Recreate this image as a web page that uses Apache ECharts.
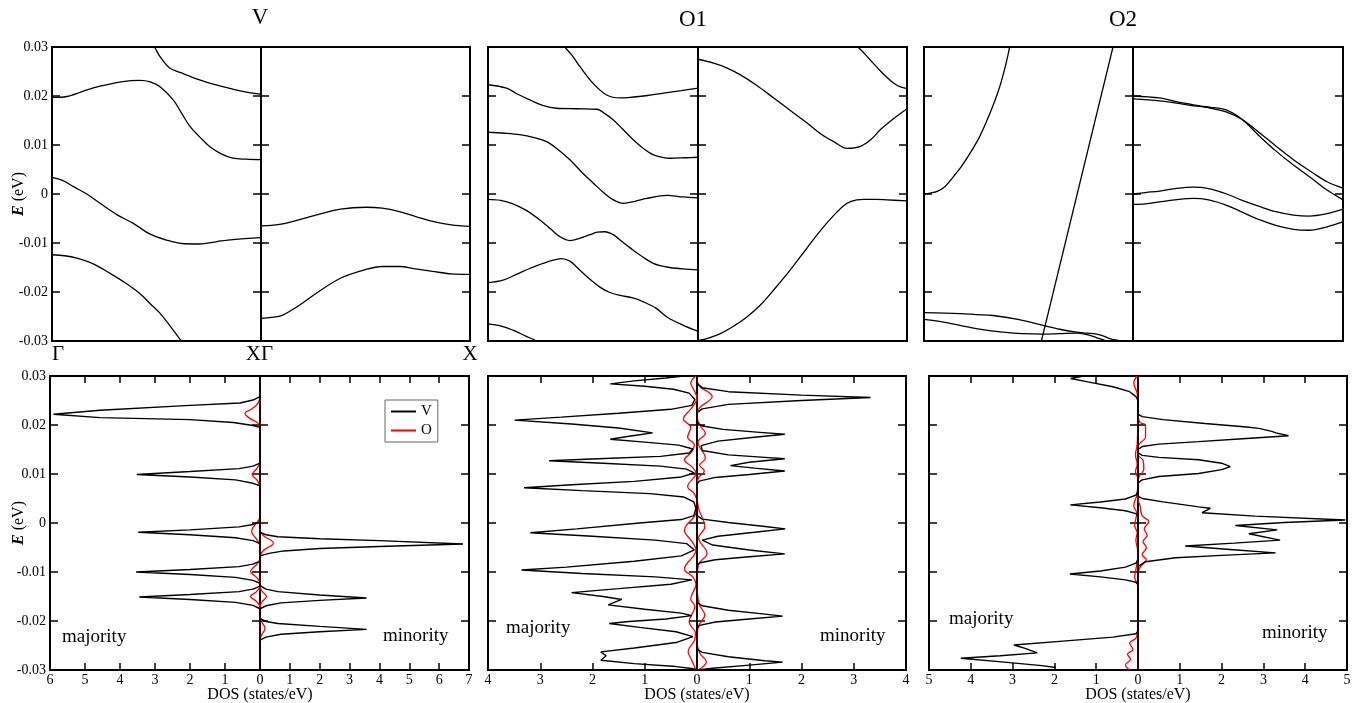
<!DOCTYPE html>
<html><head><meta charset="utf-8">
<script src="https://cdn.jsdelivr.net/npm/echarts@6/dist/echarts.min.js"></script>
<style>html,body{margin:0;padding:0;background:#fff}#c{width:1357px;height:703px}</style>
</head><body><div id="c"></div>
<script>
// ---------------- DATA ----------------
const panelTitles = ['V', 'O1', 'O2'];
const kPointLabels = ['Γ', 'X'];
const energyTicks = [-0.03, -0.02, -0.01, 0, 0.01, 0.02, 0.03];
const dosMax = [[6, 7], [4, 4], [5, 5]]; // [majority, minority] DOS axis maxima
const seriesNames = ['V', 'O'];

// Band structures: each band = list of [k (Γ=0 → X=1), E (eV)]
const bandsVmaj = [
  [[0.47,0.031],[0.49,0.030],[0.516,0.0281],[0.563,0.0257],[0.62,0.0247],[0.706,0.0233],[0.78,0.0223],[0.865,0.0214],[0.93,0.0208],[1,0.0204]],
  [[0,0.0197],[0.071,0.0199],[0.15,0.021],[0.23,0.022],[0.33,0.0229],[0.42,0.0232],[0.47,0.0229],[0.52,0.0218],[0.58,0.0192],[0.62,0.0165],[0.66,0.0138],[0.71,0.0115],[0.754,0.0097],[0.81,0.0082],[0.865,0.0073],[0.93,0.0071],[1,0.007]],
  [[0,0.0034],[0.05,0.0028],[0.103,0.0015],[0.17,-0.0001],[0.23,-0.0019],[0.31,-0.0042],[0.389,-0.006],[0.47,-0.0082],[0.548,-0.0094],[0.62,-0.0101],[0.706,-0.0102],[0.79,-0.0097],[0.865,-0.0093],[1,-0.0089]],
  [[0,-0.0124],[0.06,-0.0126],[0.119,-0.0131],[0.2,-0.0143],[0.278,-0.0162],[0.35,-0.0181],[0.42,-0.0203],[0.47,-0.0224],[0.516,-0.0243],[0.57,-0.0272],[0.619,-0.03],[0.64,-0.0312]]
];
const bandsVmin = [
  [[0,-0.0065],[0.05,-0.0064],[0.104,-0.0061],[0.18,-0.0053],[0.263,-0.0043],[0.38,-0.0031],[0.502,-0.0027],[0.58,-0.0029],[0.662,-0.0036],[0.74,-0.0046],[0.821,-0.0056],[0.91,-0.0063],[1,-0.0066]],
  [[0,-0.0254],[0.05,-0.0252],[0.104,-0.0247],[0.18,-0.0228],[0.263,-0.0203],[0.38,-0.0172],[0.502,-0.0154],[0.58,-0.0148],[0.662,-0.0148],[0.74,-0.0153],[0.821,-0.0158],[0.91,-0.0163],[1,-0.0164]]
];
const bandsO1maj = [
  [[0.35,0.031],[0.366,0.03],[0.4,0.0283],[0.438,0.026],[0.5,0.0226],[0.565,0.0202],[0.629,0.0196],[0.693,0.0198],[0.76,0.0201],[0.836,0.0206],[0.92,0.0211],[1,0.0216]],
  [[0,0.0223],[0.088,0.0216],[0.14,0.0204],[0.199,0.0192],[0.26,0.0181],[0.326,0.0175],[0.42,0.0174],[0.518,0.0173],[0.56,0.0163],[0.597,0.0151],[0.64,0.0133],[0.693,0.011],[0.74,0.0093],[0.788,0.008],[0.868,0.0073],[0.94,0.0074],[1,0.0075]],
  [[0,0.0126],[0.08,0.0124],[0.151,0.0121],[0.22,0.0115],[0.279,0.0107],[0.33,0.0092],[0.39,0.007],[0.45,0.0043],[0.502,0.0022],[0.55,0.0003],[0.597,-0.0012],[0.645,-0.0019],[0.7,-0.0015],[0.756,-0.0009],[0.852,-0.0003],[0.93,-0.0006],[1,-0.0008]],
  [[0,-0.0011],[0.06,-0.0013],[0.119,-0.002],[0.18,-0.0033],[0.247,-0.0053],[0.3,-0.0072],[0.342,-0.0087],[0.39,-0.0095],[0.44,-0.009],[0.486,-0.0083],[0.52,-0.0078],[0.557,-0.0077],[0.6,-0.0084],[0.629,-0.0094],[0.68,-0.0111],[0.725,-0.0125],[0.79,-0.0142],[0.852,-0.0149],[0.93,-0.0153],[1,-0.0155]],
  [[0,-0.0181],[0.072,-0.0176],[0.14,-0.0163],[0.199,-0.0152],[0.28,-0.0139],[0.35,-0.0132],[0.39,-0.0137],[0.422,-0.0149],[0.48,-0.0172],[0.533,-0.019],[0.58,-0.0201],[0.629,-0.0207],[0.69,-0.0212],[0.74,-0.022],[0.8,-0.0233],[0.852,-0.0251],[0.93,-0.0268],[1,-0.028]],
  [[0,-0.0265],[0.06,-0.0269],[0.119,-0.0278],[0.18,-0.029],[0.231,-0.03],[0.26,-0.0308]]
];
const bandsO1min = [
  [[0,0.0275],[0.075,0.0267],[0.14,0.0257],[0.203,0.0243],[0.28,0.0222],[0.362,0.0196],[0.44,0.0171],[0.522,0.0145],[0.59,0.0122],[0.649,0.0107],[0.713,0.0093],[0.777,0.0097],[0.83,0.0112],[0.872,0.0131],[0.94,0.0155],[1,0.0174]],
  [[0.74,0.0312],[0.766,0.03],[0.8,0.0285],[0.838,0.0267],[0.88,0.0248],[0.917,0.0233],[0.96,0.022],[1,0.0215]],
  [[0,-0.0299],[0.05,-0.0294],[0.107,-0.0285],[0.17,-0.027],[0.234,-0.0251],[0.3,-0.0226],[0.362,-0.0196],[0.43,-0.0161],[0.49,-0.0128],[0.55,-0.0094],[0.601,-0.0067],[0.66,-0.0039],[0.713,-0.0019],[0.76,-0.0012],[0.793,-0.0011],[0.85,-0.0011],[0.904,-0.0012],[1,-0.0014]]
];
const bandsO2maj = [
  [[0,0],[0.03,0.0002],[0.06,0.0005],[0.1,0.0015],[0.14,0.0035],[0.18,0.0057],[0.22,0.0083],[0.26,0.0112],[0.296,0.0145],[0.33,0.018],[0.363,0.022],[0.39,0.0262],[0.41,0.03],[0.415,0.031]],
  [[0.556,-0.031],[0.910,0.031]],
  [[0,-0.0242],[0.172,-0.0244],[0.25,-0.0246],[0.33,-0.0248],[0.45,-0.0256],[0.569,-0.0268],[0.65,-0.0276],[0.729,-0.0282],[0.78,-0.0284],[0.825,-0.0286],[0.86,-0.029],[0.889,-0.0295],[0.936,-0.03],[0.95,-0.0302]],
  [[0,-0.0256],[0.1,-0.0262],[0.172,-0.0268],[0.28,-0.0277],[0.379,-0.0282],[0.47,-0.0285],[0.57,-0.0286],[0.65,-0.0285],[0.729,-0.0284],[0.78,-0.0287],[0.825,-0.0293],[0.873,-0.03],[0.89,-0.0302]]
];
const bandsO2min = [
  [[0,0.02],[0.127,0.0196],[0.2,0.0189],[0.287,0.0182],[0.37,0.0175],[0.446,0.0167],[0.52,0.0152],[0.605,0.0124],[0.68,0.0098],[0.764,0.007],[0.85,0.0045],[0.924,0.0025],[1,0.0012]],
  [[0,0.0194],[0.127,0.019],[0.2,0.0186],[0.287,0.018],[0.37,0.0177],[0.446,0.0171],[0.52,0.0152],[0.605,0.0117],[0.68,0.0088],[0.764,0.0059],[0.85,0.0032],[0.924,0.0008],[1,-0.0012]],
  [[0,0],[0.06,0.0003],[0.127,0.0006],[0.2,0.0011],[0.287,0.0014],[0.36,0.0011],[0.446,0],[0.52,-0.0013],[0.605,-0.0026],[0.68,-0.0036],[0.764,-0.0043],[0.84,-0.0045],[0.924,-0.004],[1,-0.0031]],
  [[0,-0.0021],[0.06,-0.002],[0.127,-0.0016],[0.2,-0.0012],[0.287,-0.0009],[0.36,-0.0012],[0.446,-0.0023],[0.52,-0.0037],[0.605,-0.0053],[0.68,-0.0064],[0.764,-0.0072],[0.84,-0.0074],[0.924,-0.0067],[1,-0.0057]]
];

// Density of states: list of [DOS (states/eV), E (eV)]
const dosVmajV = [[0,0.03],[0,0.0258],[0.2,0.0251],[0.57,0.0245],[2,0.024],[4.57,0.023],[5.9,0.0222],[4.57,0.0215],[2,0.0211],[0.76,0.0205],[0.2,0.0199],[0,0.0195],
  [0,0.0122],[0.2,0.0116],[0.6,0.0111],[2,0.0105],[3.52,0.0099],[2,0.0094],[0.7,0.0088],[0.2,0.0081],[0,0.0076],
  [0,0.0003],[0.2,-0.0003],[0.6,-0.0008],[2,-0.0014],[3.48,-0.0019],[2,-0.0024],[0.7,-0.003],[0.2,-0.0036],[0,-0.0042],
  [0,-0.0078],[0.2,-0.0084],[0.6,-0.0089],[2,-0.0095],[3.54,-0.01],[2,-0.0105],[0.7,-0.0111],[0.2,-0.0117],[0,-0.0123],
  [0,-0.0129],[0.2,-0.0135],[0.6,-0.014],[2,-0.0146],[3.45,-0.0151],[2,-0.0156],[0.7,-0.0162],[0.2,-0.0168],[0,-0.0175],[0,-0.03]];
const dosVmajO = [[0,0.03],[0,0.0262],[0.05,0.0245],[0.25,0.0232],[0.43,0.0224],[0.3,0.0214],[0.08,0.0205],[0,0.0198],[0,0.0128],[0.08,0.0112],[0.22,0.0099],[0.08,0.0087],[0,0.0073],[0,0.0012],[0.08,0.0002],[0.24,-0.0017],[0.1,-0.0033],[0,-0.0047],[0,-0.0072],[0.1,-0.0085],[0.27,-0.0099],[0.1,-0.0111],[0,-0.0122],[0,-0.0128],[0.1,-0.014],[0.27,-0.015],[0.1,-0.016],[0,-0.0172],[0,-0.03]];
const dosVminV = [[0,0.03],[0,-0.0019],[0.2,-0.0024],[0.6,-0.0028],[2,-0.0032],[4,-0.0036],[6.8,-0.0043],[4,-0.0048],[2,-0.0052],[0.8,-0.0057],[0.3,-0.0062],[0,-0.0067],
  [0,-0.0128],[0.2,-0.0135],[0.6,-0.014],[2,-0.0147],[3.57,-0.0153],[2,-0.0158],[0.7,-0.0163],[0.2,-0.0169],[0,-0.0175],
  [0,-0.0195],[0.2,-0.0201],[0.6,-0.0205],[2,-0.0211],[3.57,-0.0217],[2,-0.0222],[0.7,-0.0227],[0.2,-0.0233],[0,-0.0239],[0,-0.03]];
const dosVminO = [[0,0.03],[0,-0.0012],[0.1,-0.0025],[0.45,-0.0041],[0.1,-0.0057],[0,-0.007],[0,-0.0128],[0.08,-0.014],[0.22,-0.015],[0.08,-0.016],[0,-0.0172],[0,-0.0188],[0.06,-0.0202],[0.17,-0.0215],[0.06,-0.0228],[0,-0.024],[0,-0.03]];

const dosO1majV = [[0.25,0.03],[0.6,0.0296],[1.2,0.029],[1.66,0.0284],[1.0,0.0279],[0.45,0.0273],[0.15,0.0265],[0.04,0.0252],[0.1,0.024],[0.5,0.0232],[1.5,0.0224],[2.6,0.0216],[3.49,0.021],[2.4,0.0202],[1.5,0.0194],[0.85,0.0184],[1.3,0.0177],[1.66,0.0171],[1.0,0.0165],[0.35,0.0159],[0.08,0.0151],[0.15,0.0143],[0.7,0.0136],[1.9,0.0131],[2.83,0.0127],[1.8,0.0122],[0.7,0.0116],[0.2,0.011],[0.05,0.0102],[0.3,0.0094],[1.2,0.0085],[2.4,0.0078],[3.31,0.0072],[2.2,0.0066],[0.9,0.006],[0.25,0.0053],[0.06,0.0043],[0.02,0.003],[0.06,0.0015],[0.3,0.0007],[1.1,0],[2.3,-0.0012],[3.19,-0.002],[2.0,-0.0027],[0.8,-0.0035],[0.2,-0.0042],[0.05,-0.0055],[0.3,-0.0067],[1.2,-0.0078],[2.5,-0.009],[3.36,-0.0096],[2.2,-0.0103],[0.8,-0.011],[0.1,-0.0116],[0.5,-0.0125],[1.5,-0.0134],[2.4,-0.0142],[1.8,-0.015],[1.44,-0.0156],[1.7,-0.0167],[1.0,-0.0176],[0.3,-0.0184],[0.1,-0.0189],[0.6,-0.0196],[1.3,-0.0201],[1.68,-0.0205],[1.1,-0.0213],[0.4,-0.0222],[0.08,-0.0232],[0.4,-0.0244],[1.2,-0.0255],[1.84,-0.0263],[1.74,-0.0271],[1.84,-0.028],[1.2,-0.0287],[0.4,-0.0293],[0.1,-0.0297],[0,-0.03]];
const dosO1majO = [[0.02,0.03],[0.12,0.0285],[0.05,0.027],[0,0.0255],[0.1,0.0235],[0.26,0.0212],[0.12,0.0195],[0.18,0.0175],[0.05,0.016],[0.1,0.0145],[0.24,0.0129],[0.1,0.0115],[0.02,0.0102],[0.18,0.0074],[0.05,0.006],[0,0.004],[0.02,0.002],[0.24,-0.0015],[0.08,-0.004],[0.02,-0.0055],[0.24,-0.0094],[0.08,-0.011],[0.02,-0.0125],[0.12,-0.0155],[0.04,-0.017],[0.15,-0.0202],[0.03,-0.0225],[0.05,-0.024],[0.17,-0.0262],[0.1,-0.028],[0.02,-0.03]];
const dosO1minV = [[0,0.03],[0,0.0285],[0.1,0.0276],[0.6,0.0268],[2.0,0.0261],[3.32,0.0256],[2.0,0.025],[0.6,0.0242],[0.1,0.0233],[0,0.0225],[0,0.0205],[0.1,0.0198],[0.5,0.0191],[1.2,0.0185],[1.68,0.0181],[1.1,0.0175],[0.4,0.0167],[0.08,0.0158],[0.1,0.0148],[0.6,0.0139],[1.3,0.0134],[1.68,0.0131],[1.0,0.0124],[0.64,0.0117],[1.1,0.0112],[1.68,0.0106],[1.0,0.0099],[0.35,0.0093],[0.06,0.0086],[0,0.008],[0,0.0015],[0.1,0.0008],[0.6,0.0001],[1.3,-0.0007],[1.69,-0.0012],[1.1,-0.0019],[0.4,-0.0027],[0.1,-0.0035],[0.3,-0.0045],[1.0,-0.0055],[1.68,-0.0063],[1.0,-0.0069],[0.35,-0.0075],[0.06,-0.0081],[0,-0.0086],[0,-0.0162],[0.1,-0.0169],[0.6,-0.0178],[1.3,-0.0186],[1.64,-0.019],[1.0,-0.0196],[0.35,-0.0202],[0.05,-0.0209],[0,-0.0215],[0,-0.0258],[0.1,-0.0264],[0.6,-0.0273],[1.3,-0.0281],[1.64,-0.0284],[1.0,-0.029],[0.35,-0.0296],[0,-0.03]];
const dosO1minO = [[0,0.03],[0.03,0.0282],[0.29,0.0258],[0.05,0.0235],[0,0.022],[0.05,0.02],[0.16,0.0183],[0.02,0.0165],[0.16,0.0132],[0.05,0.0118],[0.14,0.0106],[0.02,0.009],[0,0.006],[0.03,0.003],[0.15,-0.0008],[0.03,-0.003],[0.19,-0.0062],[0.03,-0.0085],[0,-0.012],[0.04,-0.0165],[0.15,-0.0188],[0.03,-0.021],[0,-0.024],[0.05,-0.0265],[0.18,-0.0283],[0.02,-0.03]];

const dosO2majV = [[1.3,0.03],[1.61,0.0295],[1.2,0.0288],[0.6,0.0278],[0.2,0.0268],[0.05,0.0258],[0,0.025],[0,0.0065],[0.05,0.0057],[0.3,0.0049],[0.9,0.0043],[1.62,0.0037],[0.9,0.0031],[0.3,0.0025],[0.05,0.0019],[0,0.0014],[0,-0.0075],[0.05,-0.0082],[0.3,-0.009],[0.9,-0.0098],[1.63,-0.0104],[0.9,-0.011],[0.3,-0.0116],[0.05,-0.0121],[0,-0.0126],[0,-0.022],[0.05,-0.0226],[0.6,-0.0233],[1.8,-0.0241],[2.97,-0.0249],[2.7,-0.0256],[2.41,-0.0265],[3.3,-0.0271],[4.24,-0.0276],[3.2,-0.0284],[2.3,-0.0291],[1.97,-0.0295]];
const dosO2majO = [[0.02,0.03],[0.1,0.0285],[0.02,0.0265],[0,0.024],[0.02,0.016],[0.06,0.014],[0.02,0.012],[0.06,0.0105],[0,0.009],[0.02,0.006],[0.1,0.0035],[0.03,0.002],[0.08,-0.0005],[0.02,-0.002],[0.05,-0.0035],[0,-0.006],[0.05,-0.0095],[0.08,-0.011],[0,-0.013],[0,-0.021],[0.05,-0.0235],[0.2,-0.0245],[0.12,-0.0258],[0.25,-0.0268],[0.18,-0.0278],[0.3,-0.029],[0.2,-0.03]];
const dosO2minV = [[0,0.03],[0,0.0222],[0.1,0.0217],[0.6,0.0211],[1.6,0.0203],[2.6,0.0196],[2.89,0.0193],[3.2,0.0187],[3.3,0.0184],[3.6,0.0178],[2.5,0.0172],[1.45,0.0166],[0.5,0.0161],[0.1,0.0156],[0,0.015],[0,0.0143],[0.1,0.0138],[0.5,0.0134],[1.45,0.0129],[2.0,0.0122],[2.21,0.0115],[2.0,0.0109],[1.45,0.0101],[0.5,0.0095],[0.1,0.0088],[0,0.0082],[0,0.0055],[0.1,0.005],[0.6,0.0043],[1.2,0.0036],[1.45,0.0033],[1.73,0.003],[1.53,0.0021],[2.8,0.0014],[4.96,0.0006],[3.5,0.0001],[2.33,-0.0005],[3.33,-0.0014],[2.65,-0.0022],[3.4,-0.0035],[2.3,-0.0041],[1.13,-0.0047],[2.2,-0.0054],[3.29,-0.0061],[2.0,-0.0066],[0.9,-0.0071],[0.18,-0.0079],[0,-0.0089],[0,-0.03]];
const dosO2minO = [[0,0.03],[0,0.022],[0.05,0.0205],[0.18,0.02],[0.18,0.0175],[0.05,0.0163],[0,0.0155],[0,0.014],[0.12,0.0128],[0.14,0.011],[0.03,0.0095],[0,0.0085],[0,0.005],[0.05,0.0035],[0.1,0.0015],[0.26,0.0003],[0.15,-0.0012],[0.22,-0.0025],[0.12,-0.0038],[0.2,-0.005],[0.1,-0.0065],[0.2,-0.0075],[0.05,-0.009],[0,-0.0105],[0,-0.03]];

// ---------------- LAYOUT ----------------
const FONT = 'Liberation Serif';
const bandRects = [[[52,47,209,294],[261,47,209,294]], [[488,47,210,294],[698,47,209,294]], [[924,47,209,294],[1133,47,210,294]]];
const dosRects  = [[[50,376,210,294],[260,376,209,294]], [[488,376,209,294],[697,376,209,294]], [[929,376,209,294],[1138,376,209,294]]];

const bandSets = [[bandsVmaj, bandsVmin], [bandsO1maj, bandsO1min], [bandsO2maj, bandsO2min]];
const dosSets = [
  [[dosVmajV, dosVmajO], [dosVminV, dosVminO]],
  [[dosO1majV, dosO1majO], [dosO1minV, dosO1minO]],
  [[dosO2majV, dosO2majO], [dosO2minV, dosO2minO]]
];

const grids = [], xAxes = [], yAxes = [], series = [];
const tickStyle = {color: '#000', width: 1.5};
const eMin = energyTicks[0], eMax = energyTicks[energyTicks.length - 1];

function addGrid(rect, o) {
  const gi = grids.length;
  grids.push({left: rect[0], top: rect[1], width: rect[2], height: rect[3], show: true, borderColor: '#000', borderWidth: 2});
  const xBase = {gridIndex: gi, type: 'value', min: o.xmin, max: o.xmax, interval: o.xint, inverse: !!o.inverse,
    axisLine: {show: false, onZero: false}, splitLine: {show: false}};
  xAxes.push(Object.assign({}, xBase, {position: 'bottom',
    axisTick: {show: !!o.xticks, inside: true, length: 7, lineStyle: tickStyle},
    axisLabel: o.xlabel || {show: false}}));
  xAxes.push(Object.assign({}, xBase, {position: 'top',
    axisTick: {show: !!o.xticks, inside: true, length: 7, lineStyle: tickStyle},
    axisLabel: {show: false}}));
  const yBase = {gridIndex: gi, type: 'value', min: eMin, max: eMax, interval: 0.01,
    axisLine: {show: false, onZero: false}, splitLine: {show: false},
    axisTick: {show: true, inside: true, length: 8, lineStyle: tickStyle}};
  const yl = Object.assign({}, yBase, {position: 'left', axisLabel: {show: false}});
  if (o.ylabel) {
    yl.axisLabel = {show: true, margin: 4, color: '#000', fontFamily: FONT, fontSize: 14,
      formatter: v => (Math.abs(v) < 1e-9 ? '0' : v.toFixed(2))};
    yl.name = '{e|E} (eV)';
    yl.nameLocation = 'middle';
    yl.nameRotate = 90;
    yl.nameGap = o.nameGap;
    yl.nameMoveOverlap = false;
    yl.nameTextStyle = {fontFamily: FONT, fontSize: 16, color: '#000',
      rich: {e: {fontFamily: FONT, fontSize: 16, fontWeight: 'bold', fontStyle: 'italic', color: '#000'}}};
  }
  yAxes.push(yl);
  yAxes.push(Object.assign({}, yBase, {position: 'right', axisLabel: {show: false}}));
  return gi;
}

// Band-structure panels
bandSets.forEach((pair, p) => {
  pair.forEach((bands, s) => {
    let xlabel = {show: false};
    if (p === 0) {
      xlabel = {show: true, customValues: [0, 1], showMinLabel: true, showMaxLabel: true, margin: 3,
        color: '#000', fontFamily: FONT, fontSize: 21,
        formatter: v => (v === 0 ? kPointLabels[0] : kPointLabels[1]),
        alignMinLabel: 'left', alignMaxLabel: s === 0 ? 'right' : 'center'};
    }
    const gi = addGrid(bandRects[p][s], {xmin: 0, xmax: 1, xint: 1, xticks: false, xlabel,
      ylabel: p === 0 && s === 0, nameGap: 25});
    bands.forEach(b => series.push({type: 'line', xAxisIndex: 2 * gi, yAxisIndex: 2 * gi, data: b,
      symbol: 'none', smooth: 0.35, silent: true, color: '#000', lineStyle: {color: '#000', width: 1.3}}));
  });
});

// DOS panels
dosSets.forEach((pair, p) => {
  pair.forEach((curves, s) => {
    const gi = addGrid(dosRects[p][s], {xmin: 0, xmax: dosMax[p][s], xint: 1, xticks: true, inverse: s === 0,
      xlabel: {show: true, margin: 3, color: '#000', fontFamily: FONT, fontSize: 14, showMinLabel: s === 0, showMaxLabel: true},
      ylabel: p === 0 && s === 0, nameGap: 23});
    series.push({name: seriesNames[1], type: 'line', xAxisIndex: 2 * gi, yAxisIndex: 2 * gi, data: curves[1], z: 2,
      symbol: 'none', smooth: 0.4, silent: true, color: '#ff0000', lineStyle: {color: '#ff0000', width: 1.3}});
    series.push({name: seriesNames[0], type: 'line', xAxisIndex: 2 * gi, yAxisIndex: 2 * gi, data: curves[0], z: 4,
      symbol: 'none', smooth: false, silent: true, color: '#000', lineStyle: {color: '#000', width: 1.4}});
  });
});

const txt = (x, y, text, size, align) => ({type: 'text', x, y, silent: true, z: 10,
  style: {text, font: size + 'px "' + FONT + '"', fill: '#000', textAlign: align || 'center', textVerticalAlign: 'middle'}});

const graphics = [
  txt(260, 18, panelTitles[0], 23), txt(693, 20, panelTitles[1], 23), txt(1123, 20, panelTitles[2], 23),
  txt(260, 695, 'DOS (states/eV)', 16), txt(697, 695, 'DOS (states/eV)', 16), txt(1138, 695, 'DOS (states/eV)', 16),
  txt(62, 637, 'majority', 19, 'left'), txt(383, 636, 'minority', 19, 'left'),
  txt(506, 628, 'majority', 19, 'left'), txt(820, 636, 'minority', 19, 'left'),
  txt(949, 619, 'majority', 19, 'left'), txt(1262, 633, 'minority', 19, 'left')
];

const chart = echarts.init(document.getElementById('c'), null, {renderer: 'canvas'});
chart.setOption({
  animation: false,
  backgroundColor: '#fff',
  grid: grids,
  xAxis: xAxes,
  yAxis: yAxes,
  series: series,
  legend: {data: seriesNames, orient: 'vertical', left: 385, top: 400, icon: 'rect', itemWidth: 25, itemHeight: 2,
    itemGap: 4, padding: [4, 6], borderColor: '#666', borderWidth: 1, selectedMode: false,
    textStyle: {fontFamily: FONT, fontSize: 15, color: '#000'}},
  graphic: graphics
});
</script></body></html>
